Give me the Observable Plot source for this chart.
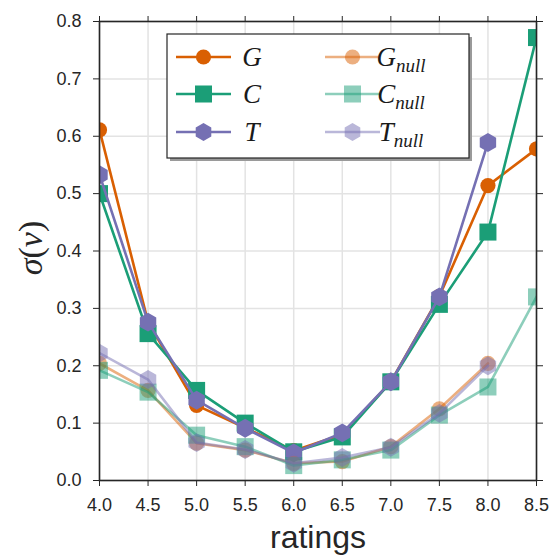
<!DOCTYPE html>
<html>
<head>
<meta charset="utf-8">
<script src="https://cdn.jsdelivr.net/npm/d3@7"></script>
<script src="https://cdn.jsdelivr.net/npm/@observablehq/plot@0.6"></script>
<style>
  html, body { margin: 0; padding: 0; background: #fff; }
  #chart { width: 552px; height: 558px; }
</style>
</head>
<body>
<div id="chart"></div>
<script>
// ---- data ----
const ratings = [4.0, 4.5, 5.0, 5.5, 6.0, 6.5, 7.0, 7.5, 8.0, 8.5];
const G     = [0.611, 0.276, 0.131, 0.092, 0.052, 0.080, 0.172, 0.321, 0.514, 0.578];
const C     = [0.500, 0.256, 0.157, 0.100, 0.050, 0.076, 0.172, 0.307, 0.433, 0.772];
const T     = [0.533, 0.276, 0.140, 0.091, 0.048, 0.083, 0.172, 0.320, 0.589, null];
const Gnull = [0.204, 0.157, 0.065, 0.053, 0.030, 0.033, 0.059, 0.125, 0.204, null];
const Cnull = [0.192, 0.154, 0.079, 0.059, 0.026, 0.036, 0.053, 0.114, 0.163, 0.320];
const Tnull = [0.222, 0.176, 0.066, 0.054, 0.030, 0.040, 0.058, 0.117, 0.200, null];
const seriesNames = ["G", "C", "T", "Gnull", "Cnull", "Tnull"];
const seriesValues = [G, C, T, Gnull, Cnull, Tnull];
const xTicks = [4.0, 4.5, 5.0, 5.5, 6.0, 6.5, 7.0, 7.5, 8.0, 8.5];
const yTicks = [0.0, 0.1, 0.2, 0.3, 0.4, 0.5, 0.6, 0.7, 0.8];

// ---- styles ----
const colors = {G: "#d95f02", C: "#1b9e77", T: "#7570b3"};
const symbols = {G: "circle", C: "square", T: "hexagon"};
const radii = {G: 7.6, C: 9.6, T: 8.2};

const series = seriesNames.map((name, i) => {
  const base = name[0];
  const isNull = name.endsWith("null");
  return {
    name, base, isNull,
    color: colors[base], symbol: symbols[base], r: radii[base],
    opacity: isNull ? 0.5 : 1,
    data: ratings.map((x, j) => ({x, y: seriesValues[i][j]})).filter(d => d.y != null)
  };
});

const marks = [
  Plot.gridX(xTicks, {stroke: "#e3e3e3", strokeOpacity: 1, strokeWidth: 1.5}),
  Plot.gridY(yTicks, {stroke: "#e3e3e3", strokeOpacity: 1, strokeWidth: 1.5}),
];
for (const s of series) {
  marks.push(Plot.line(s.data, {x: "x", y: "y", stroke: s.color, strokeWidth: 2.6, strokeOpacity: s.opacity, clip: true}));
  marks.push(Plot.dot(s.data, {x: "x", y: "y", symbol: () => s.symbol, r: s.r, fill: s.color, fillOpacity: s.opacity, stroke: "none", clip: true}));
}
marks.push(
  Plot.frame({stroke: "#262626", strokeWidth: 1.6}),
  Plot.axisX({anchor: "bottom", ticks: xTicks, text: null, tickSize: 6, label: null}),
  Plot.axisX({anchor: "top", ticks: xTicks, text: null, tickSize: 6, label: null}),
  Plot.axisY({anchor: "left", ticks: yTicks, text: null, tickSize: 6, label: null}),
  Plot.axisY({anchor: "right", ticks: yTicks, text: null, tickSize: 6, label: null}),
  Plot.text(xTicks, {x: d => d, frameAnchor: "bottom", dy: 25, text: d => d.toFixed(1), fontSize: 18, fill: "#262626", lineAnchor: "middle"}),
  Plot.text(yTicks, {y: d => d, frameAnchor: "left", dx: -18, text: d => d.toFixed(1), fontSize: 18, fill: "#262626", textAnchor: "end"}),
  Plot.text(["ratings"], {frameAnchor: "bottom", dy: 57, fontSize: 32, fill: "#262626", lineAnchor: "middle"})
);

const chart = Plot.plot({
  width: 552,
  height: 558,
  marginLeft: 99,
  marginRight: 16,
  marginTop: 21,
  marginBottom: 78,
  x: {domain: [4.0, 8.5]},
  y: {domain: [0.0, 0.8]},
  style: {fontFamily: "'Liberation Sans', Arial, sans-serif", color: "#262626", background: "#fff"},
  marks
});
document.getElementById("chart").appendChild(chart);

// ---- y label (math style) ----
const svg = d3.select(chart);
const serif = "'Liberation Serif', 'DejaVu Serif', serif";
const yl = svg.append("text")
  .attr("transform", "translate(42,248) rotate(-90)")
  .attr("text-anchor", "middle")
  .attr("font-family", serif)
  .attr("font-size", 34)
  .attr("fill", "#262626");
yl.append("tspan").attr("font-style", "italic").text("σ");
yl.append("tspan").text("(");
yl.append("tspan").attr("font-style", "italic").text("v");
yl.append("tspan").text(")");

// ---- legend ----
const lg = svg.append("g");
const box = {x: 167, y: 34, w: 302, h: 124};
lg.append("rect").attr("x", box.x + 3).attr("y", box.y + 3).attr("width", box.w).attr("height", box.h).attr("fill", "#9a9a9a");
lg.append("rect").attr("x", box.x).attr("y", box.y).attr("width", box.w).attr("height", box.h).attr("fill", "#fff").attr("stroke", "#262626").attr("stroke-width", 1.2);

function symbolPath(sym, r) {
  if (sym === "circle") return d3.symbol(d3.symbolCircle, Math.PI * r * r)();
  if (sym === "square") return d3.symbol(d3.symbolSquare, Math.PI * r * r)();
  const pts = d3.range(6).map(k => {
    const a = -Math.PI / 2 + k * Math.PI / 3;
    return [r * Math.cos(a), r * Math.sin(a)];
  });
  return "M" + pts.map(p => p.join(",")).join("L") + "Z";
}

const rowsY = [57, 94, 132];
series.forEach((s, i) => {
  const col = s.isNull ? 1 : 0;
  const row = i % 3;
  const x0 = col === 0 ? 176 : 325;
  const cy = rowsY[row];
  const g = lg.append("g");
  g.append("line").attr("x1", x0).attr("x2", x0 + 55).attr("y1", cy).attr("y2", cy)
    .attr("stroke", s.color).attr("stroke-width", 2.6).attr("stroke-opacity", s.opacity);
  g.append("path").attr("d", symbolPath(s.symbol, s.symbol === "hexagon" ? 9 : s.r))
    .attr("transform", `translate(${x0 + 27.5},${cy})`)
    .attr("fill", s.color).attr("fill-opacity", s.opacity);
  const t = g.append("text").attr("x", col === 0 ? 252 : 401).attr("y", cy + 9)
    .attr("font-family", serif).attr("font-size", 27).attr("font-style", "italic").attr("fill", "#1a1a1a");
  t.append("tspan").text(s.base);
  if (s.isNull) t.append("tspan").attr("font-size", 19).attr("dy", 6).text("null");
});
</script>
</body>
</html>
